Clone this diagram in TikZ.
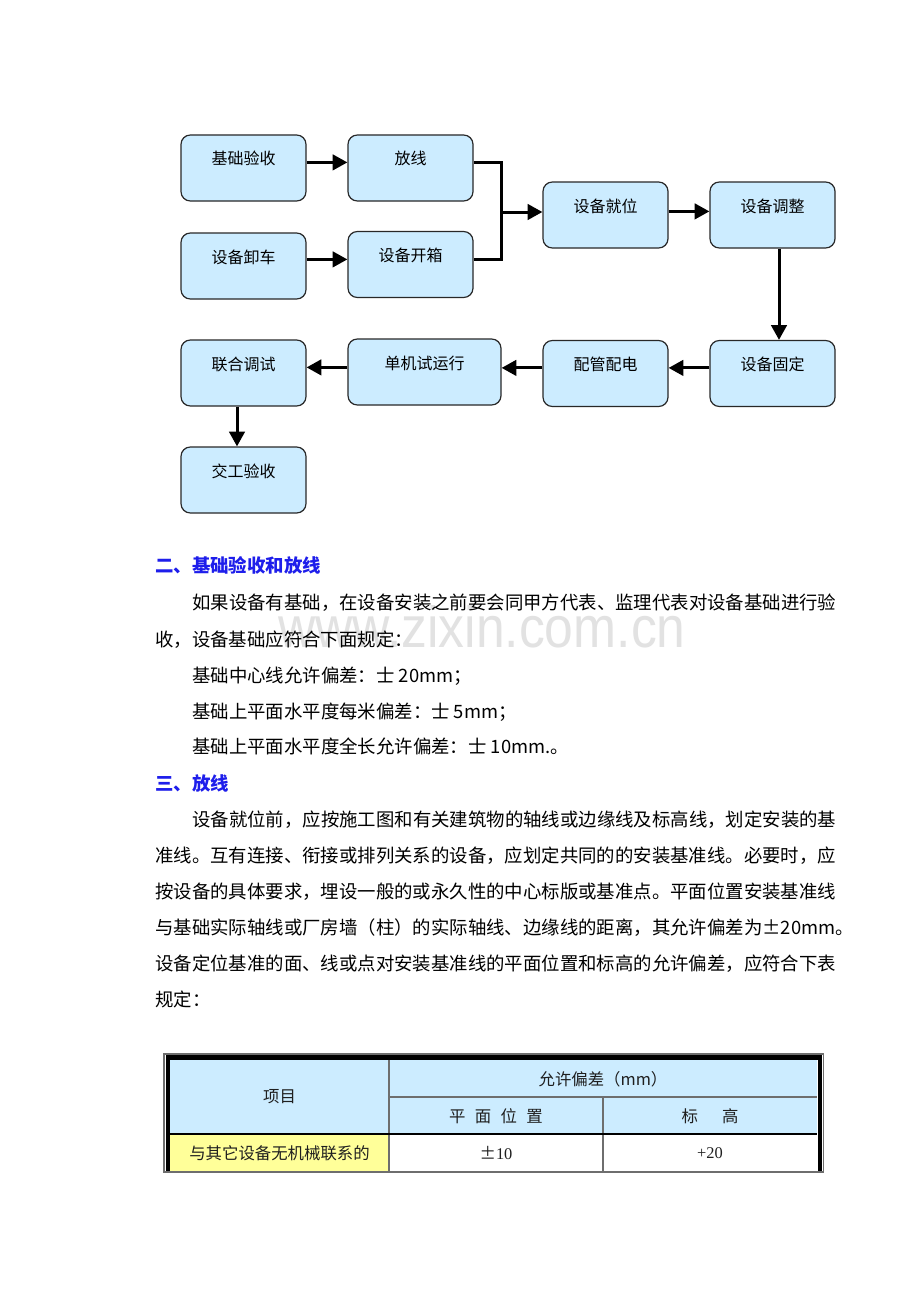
\documentclass[tikz,border=0pt]{standalone}
\usepackage{fontspec}
\usepackage{graphicx}
\newfontfamily\cjk{Noto Sans CJK SC}
\newfontfamily\wmfont{Liberation Sans}
\newfontfamily\tnr{Liberation Serif}
\usetikzlibrary{arrows.meta,calc}
\XeTeXlinebreaklocale "zh"
\XeTeXlinebreakskip=0pt plus 3pt minus 0.5pt
\definecolor{boxblue}{RGB}{204,236,255}
\definecolor{boxedge}{RGB}{40,40,40}
\definecolor{headblue}{RGB}{30,30,235}
\definecolor{cellyellow}{RGB}{255,255,153}
\definecolor{gridgray}{RGB}{110,110,110}
\definecolor{wmgray}{RGB}{226,226,226}
\newcommand{\jl}[2]{\makebox[#1][s]{#2}}
\begin{document}
\begin{tikzpicture}[x=0.75pt,y=-0.75pt,
  flowbox/.style={draw=boxedge, line width=0.9pt, fill=boxblue, rounded corners=7pt,
    minimum width=93.75pt, minimum height=49.5pt, inner xsep=0pt, inner ysep=5.25pt,
    text height=15pt, text depth=19.5pt, align=center,
    font=\cjk\fontsize{12pt}{12pt}\selectfont},
  ln/.style={line width=2.25pt, line join=miter},
  arr/.style={line width=2.25pt, -{Triangle[length=11pt,width=11.5pt]}},
  bodytxt/.style={anchor=base west, inner sep=0pt, font=\cjk\fontsize{13.8pt}{13.8pt}\selectfont},
  headtxt/.style={anchor=base west, inner sep=0pt, text=headblue, font=\cjk\bfseries\fontsize{13.8pt}{13.8pt}\selectfont},
  celltxt/.style={inner sep=0pt, text=black!88, font=\cjk\fontsize{12.3pt}{12.3pt}\selectfont}
]
\useasboundingbox (0,0) rectangle (920,1302);
\fill[white] (0,0) rectangle (920,1302);

% ---------- flow chart ----------
\node[flowbox] (A) at (243.5,168) {基础验收};
\node[flowbox] (B) at (410.5,168) {放线};
\node[flowbox] (C) at (243.5,266) {设备卸车};
\node[flowbox] (D) at (410.5,264.5) {设备开箱};
\node[flowbox] (E) at (605.5,215) {设备就位};
\node[flowbox] (F) at (772.5,215) {设备调整};
\node[flowbox] (G) at (772.5,373.5) {设备固定};
\node[flowbox] (H) at (605.5,373.5) {配管配电};
\node[flowbox, minimum width=114.75pt] (I) at (424.5,372) {单机试运行};
\node[flowbox] (J) at (243.5,373) {联合调试};
\node[flowbox] (K) at (243.5,480) {交工验收};

\coordinate (m) at (501,212);
\coordinate (pAB) at ($(A.north east)+(0,28)$);
\coordinate (pCD) at ($(C.north east)+(0,27)$);
\coordinate (pEF) at ($(E.north east)+(0,30)$);
\coordinate (pGH) at ($(G.north west)+(0,28)$);
\coordinate (pHI) at ($(H.north west)+(0,28)$);
\coordinate (pIJ) at ($(I.north west)+(0,29)$);
\coordinate (pFG) at ($(F.south)+(6.5,0)$);
\coordinate (pJK) at ($(J.south)+(-6.5,0)$);
\draw[arr] (pAB) -- (B.west |- pAB);
\draw[arr] (pCD) -- (D.west |- pCD);
\draw[ln] ($(B.north east)+(0,28)$) -| (m) |- (D.east |- pCD);
\draw[arr] (m) -- (E.west |- m);
\draw[arr] (pEF) -- (F.west |- pEF);
\draw[arr] (pFG) -- (pFG |- G.north);
\draw[arr] (pGH) -- (H.east |- pGH);
\draw[arr] (pHI) -- (I.east |- pHI);
\draw[arr] (pIJ) -- (J.east |- pIJ);
\draw[arr] (pJK) -- (pJK |- K.north);

% ---------- watermark ----------
\node[anchor=base west, inner sep=0pt, text=wmgray, font=\wmfont\fontsize{43.5pt}{43.5pt}\selectfont] (wm) at (278,647) {\scalebox{0.89}[1]{www.zixin.com.cn}};

% ---------- text ----------
\node[headtxt] (h1) at (155,572) {二、基础验收和放线};
\node[bodytxt] (p1a) at (192,609) {\jl{484.5pt}{如果设备有基础，在设备安装之前要会同甲方代表、监理代表对设备基础进行验}};
\node[bodytxt] (p1b) at (155,646) {收，设备基础应符合下面规定：};
\node[bodytxt] (p1c) at (192,682) {基础中心线允许偏差：士 20mm；};
\node[bodytxt] (p1d) at (192,718) {基础上平面水平度每米偏差：士 5mm；};
\node[bodytxt] (p1e) at (192,753) {基础上平面水平度全长允许偏差：士 10mm.。};

\node[headtxt] (h2) at (155,790) {三、放线};
\node[bodytxt] (p2a) at (192,826) {\jl{484.5pt}{设备就位前，应按施工图和有关建筑物的轴线或边缘线及标高线，划定安装的基}};
\node[bodytxt] (p2b) at (155,862) {\jl{512.25pt}{准线。互有连接、衔接或排列关系的设备，应划定共同的的安装基准线。必要时，应}};
\node[bodytxt] (p2c) at (155,898) {\jl{512.25pt}{按设备的具体要求，埋设一般的或永久性的中心标版或基准点。平面位置安装基准线}};
\node[bodytxt] (p2d) at (155,934) {\jl{512.25pt}{与基础实际轴线或厂房墙（柱）的实际轴线、边缘线的距离，其允许偏差为±20mm。}};
\node[bodytxt] (p2e) at (155,970) {\jl{512.25pt}{设备定位基准的面、线或点对安装基准线的平面位置和标高的允许偏差，应符合下表}};
\node[bodytxt] (p2f) at (155,1006) {规定：};

% ---------- table ----------
\fill[boxblue] (170,1060) rectangle (817,1134);
\fill[cellyellow] (170,1134) rectangle (389,1171);
\draw[gridgray, line width=0.9pt] (389,1060) -- (389,1171);
\draw[gridgray, line width=0.9pt] (603,1097) -- (603,1171);
\draw[gridgray, line width=0.9pt] (389,1097) -- (817,1097);
\draw[black, line width=1pt] (170,1134) -- (817,1134);
% frame
\draw[gridgray, line width=0.8pt] (164,1172) -- (164,1054) -- (823.5,1054) -- (823.5,1172) -- cycle;
\fill[black] (165.5,1055) rectangle (170,1171);
\fill[black] (165.5,1055) rectangle (822,1060);
\fill[black] (817.5,1055) rectangle (822,1171);

\node[celltxt] (t1) at (279.5,1097) {项目};
\node[celltxt] (t2) at (603,1079) {允许偏差（mm）};
\node[celltxt] (t3) at (496,1116) {平\hspace{7pt}面\hspace{7pt}位\hspace{7pt}置};
\node[celltxt] (t4) at (710,1116) {标\hspace{18pt}高};
\node[celltxt] (t5) at (279.5,1153) {与其它设备无机械联系的};
\node[celltxt] (t6) at (496,1153) {±{\tnr 10}};
\node[celltxt] (t7) at (710,1153) {{\tnr +20}};
\end{tikzpicture}
\end{document}
